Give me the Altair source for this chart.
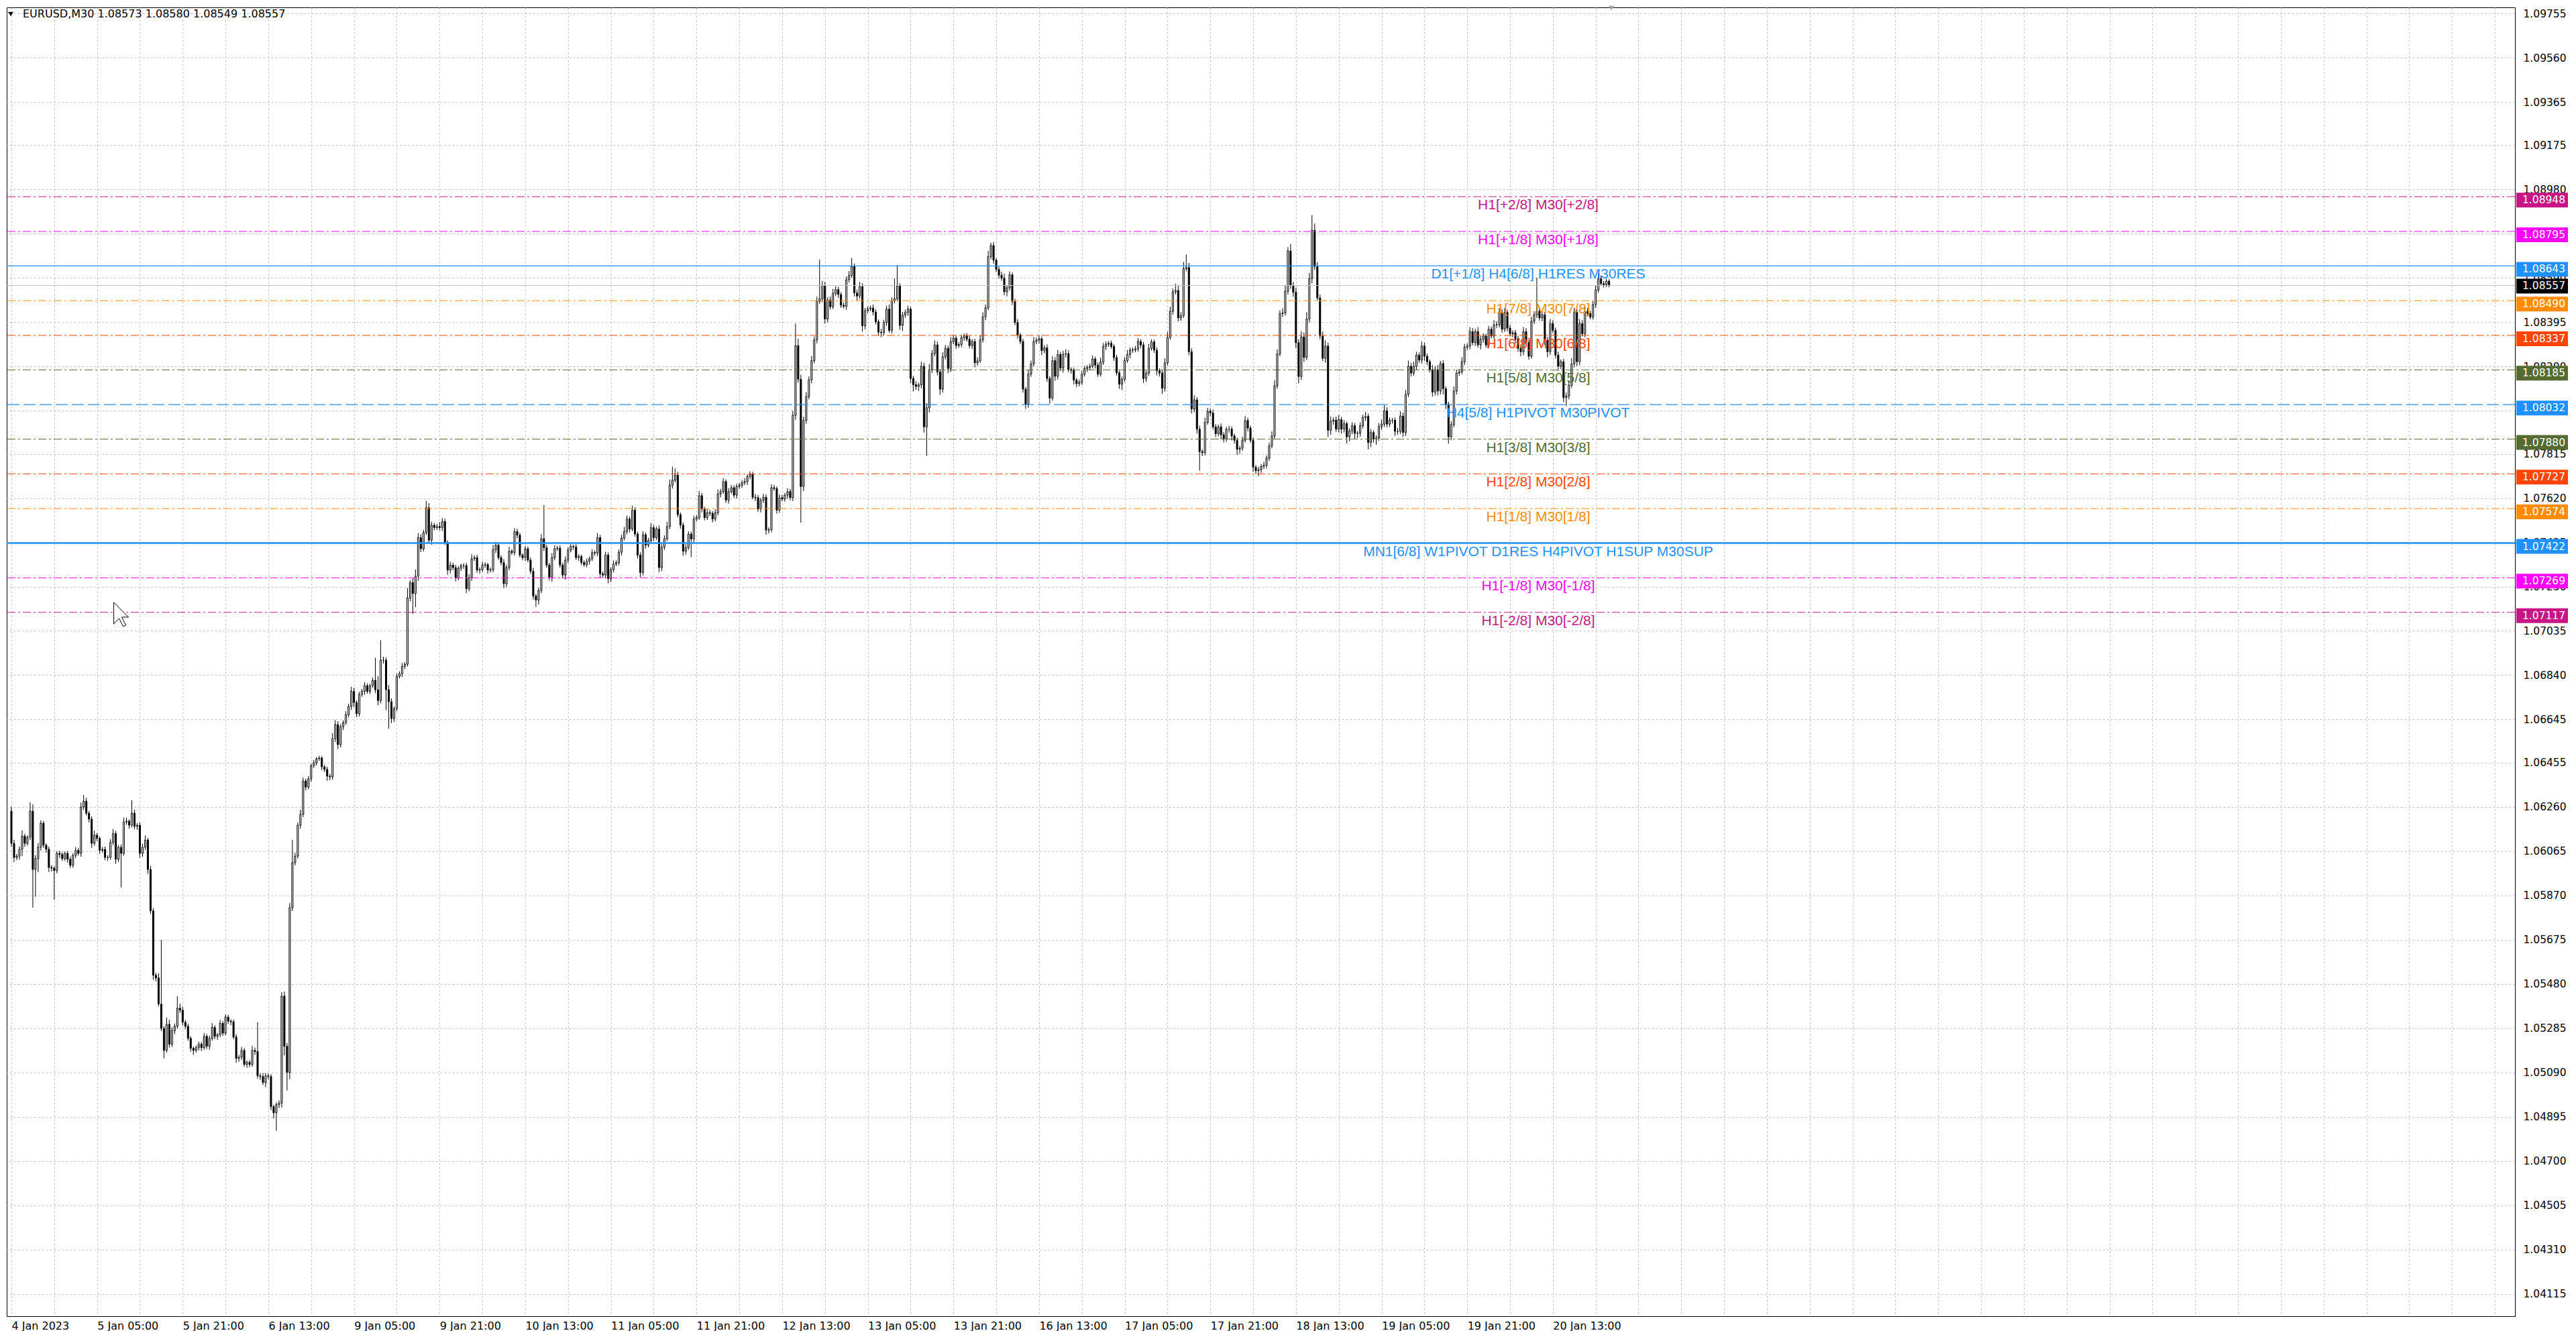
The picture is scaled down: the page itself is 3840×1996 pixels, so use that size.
import json
import altair as alt
import pandas as pd

# ---------------- data (prices in 1e-5 units above 1.00000) ----------------
first_open_pts = 6241
close_pts = [
6099,6037,6043,6073,6131,6099,6126,6241,5984,6032,
6082,6188,6091,6073,5993,5990,5979,6055,6050,6032,
6055,6029,6002,6046,6068,6055,6259,6285,6232,6206,
6099,6135,6121,6068,6073,6037,6037,6103,6142,6029,
6082,6055,6193,6197,6179,6232,6174,6179,6055,6082,
6114,5984,5802,5518,5506,5391,5284,5187,5302,5214,
5274,5293,5373,5364,5311,5293,5240,5196,5187,5199,
5214,5199,5249,5205,5240,5288,5249,5256,5306,5263,
5334,5316,5313,5246,5152,5157,5187,5125,5134,5125,
5187,5182,5075,5072,5045,5075,5072,4939,4912,4948,
4955,5426,5205,5090,5816,6014,6043,6179,6227,6374,
6347,6383,6441,6454,6472,6475,6436,6425,6395,6392,
6560,6622,6534,6613,6631,6666,6702,6769,6719,6670,
6755,6769,6794,6769,6794,6817,6776,6728,6906,6906,
6776,6723,6649,6693,6835,6847,6879,6888,7180,7248,
7200,7276,7446,7397,7468,7578,7435,7501,7490,7495,
7490,7517,7424,7303,7325,7314,7268,7311,7323,7323,
7221,7270,7353,7358,7303,7305,7325,7327,7303,7305,
7393,7413,7358,7336,7243,7314,7386,7380,7473,7457,
7369,7358,7397,7347,7298,7188,7171,7213,7441,7402,
7325,7272,7358,7397,7400,7325,7281,7347,7391,7407,
7405,7358,7363,7336,7327,7342,7353,7380,7378,7446,
7287,7281,7369,7265,7305,7330,7336,7382,7444,7473,
7528,7484,7567,7462,7369,7292,7459,7413,7433,7490,
7446,7484,7314,7404,7441,7495,7677,7699,7721,7547,
7501,7386,7402,7462,7440,7528,7534,7631,7572,7534,
7556,7553,7528,7556,7638,7649,7693,7611,7649,7666,
7633,7671,7677,7688,7693,7715,7726,7624,7622,7572,
7611,7624,7479,7481,7666,7662,7567,7622,7616,7633,
7649,7622,7985,8292,8144,7671,7963,8067,8141,8226,
8317,8488,8498,8557,8409,8493,8463,8522,8539,8517,
8470,8465,8582,8601,8641,8524,8510,8552,8379,8446,
8453,8458,8440,8397,8351,8349,8394,8453,8359,8490,
8498,8555,8381,8426,8438,8453,8147,8120,8112,8119,
8201,7934,8018,8186,8257,8295,8176,8100,8243,8280,
8191,8310,8325,8292,8297,8327,8335,8320,8292,8310,
8216,8225,8317,8419,8458,8684,8733,8668,8628,8602,
8589,8529,8547,8604,8486,8394,8338,8310,8100,8033,
8166,8211,8310,8316,8322,8270,8282,8147,8061,8226,
8157,8253,8193,8254,8256,8186,8183,8140,8124,8131,
8166,8191,8196,8201,8233,8206,8166,8219,8288,8298,
8302,8288,8239,8172,8122,8144,8226,8252,8272,8273,
8278,8310,8295,8147,8171,8280,8308,8272,8181,8171,
8104,8216,8328,8443,8529,8535,8414,8424,8631,8636,
8265,8013,8053,7924,7825,7820,7954,8003,7995,7934,
7904,7934,7899,7880,7924,7924,7894,7875,7835,7840,
7875,7962,7929,7875,7756,7741,7746,7760,7765,7796,
7850,7894,8114,8255,8433,8436,8532,8709,8557,8527,
8305,8156,8330,8240,8409,8587,8800,8640,8502,8334,
8236,8290,7919,7959,7964,7924,7966,7924,7948,7890,
7916,7939,7905,7906,7939,7975,7980,7865,7909,7880,
7885,7936,7946,8005,7946,7963,7963,7914,7914,7982,
7909,8077,8201,8171,8201,8250,8228,8290,8245,8221,
8186,8087,8186,8092,8213,8102,8033,7890,7944,8092,
8171,8176,8221,8285,8290,8354,8305,8354,8295,8320,
8334,8295,8364,8334,8384,8384,8438,8364,8438,8369,
8344,8349,8320,8280,8265,8354,8305,8245,8399,8428,
8443,8414,8428,8315,8265,8389,8359,8250,8201,8221,
8063,8070,8117,8211,8438,8221,8389,8344,8443,8433,
8418,8473,8537,8586,8565,8560,8576,8557]

upper_wick_pts = [
20,15,10,12,25,10,8,39,30,15,18,12,10,8,12,10,8,10,12,10,
8,10,12,10,15,10,20,27,15,10,12,20,10,8,10,12,10,15,20,12,
10,12,20,15,8,57,15,10,12,15,20,10,15,12,10,20,283,10,30,20,
15,12,53,20,15,10,12,10,8,10,12,10,15,10,12,20,10,8,15,10,
12,10,8,10,12,10,15,10,8,10,20,12,129,10,15,12,10,10,8,10,
12,18,20,15,20,100,15,12,20,15,10,12,10,12,8,10,8,10,12,10,
25,20,15,12,10,15,12,20,15,10,12,10,15,10,8,12,100,60,88,15,
12,20,15,10,12,10,15,10,44,10,20,30,20,15,12,30,20,15,10,12,
20,15,12,10,15,10,12,10,8,10,12,15,20,10,12,10,15,10,8,10,
20,15,12,10,15,12,20,10,15,12,10,8,12,10,12,15,10,12,20,148,
12,10,20,15,10,12,10,15,12,10,8,12,10,8,10,12,10,15,10,20,
12,10,15,12,10,15,10,12,15,20,15,10,20,12,10,12,15,10,12,20,
12,10,15,20,15,20,25,60,30,15,10,12,15,12,10,15,12,20,12,10,
15,12,10,15,20,12,15,10,15,12,10,12,10,12,15,10,12,10,15,12,
10,15,12,10,15,12,10,15,12,10,15,12,20,97,30,20,15,20,15,20,
15,20,173,20,15,12,15,20,15,12,10,12,15,20,37,12,15,20,15,12,
12,10,15,12,10,15,12,15,20,15,89,91,12,15,12,15,10,12,15,10,
20,15,20,25,15,20,15,12,20,15,12,20,15,12,10,12,10,12,15,10,
12,15,20,20,15,25,12,15,10,12,15,20,12,15,10,12,15,10,12,10,
20,15,20,12,15,10,12,15,10,20,15,20,12,15,20,15,10,12,10,12,
15,12,10,12,15,10,12,20,15,12,10,12,10,12,10,12,15,20,12,10,
12,15,10,12,15,20,12,10,12,10,15,20,25,20,15,30,20,15,30,57,
20,15,20,12,15,10,20,15,12,15,12,10,15,12,10,15,12,10,12,10,
15,20,12,10,12,10,12,10,15,12,15,20,25,20,15,20,25,17,30,15,
20,15,25,20,30,25,67,30,20,15,20,25,15,20,12,15,20,12,15,10,
12,15,12,10,15,12,20,12,15,10,12,15,20,25,15,12,10,12,15,20,
15,20,25,15,20,15,12,20,15,12,10,20,15,20,12,15,10,12,15,20,
15,12,20,15,12,20,15,12,20,15,12,10,15,12,20,15,20,15,20,12,
15,10,12,15,10,20,15,12,20,15,148,20,15,12,15,20,15,12,15,10,
12,15,20,25,20,15,20,15,20,15,12,15,20,25,15,12,10,8]

lower_wick_pts = [
15,20,12,15,30,15,10,12,168,120,60,15,12,15,20,15,128,12,15,10,
10,15,12,10,12,10,15,12,10,15,20,10,12,15,10,12,15,10,12,20,
12,150,10,12,15,10,12,15,20,15,12,20,15,20,15,10,12,35,10,15,
12,15,10,12,15,12,10,15,20,10,12,15,10,12,15,10,12,15,10,12,
10,12,15,10,20,15,12,10,15,12,10,15,12,15,10,20,12,15,25,79,
15,20,40,80,30,15,12,10,15,12,15,10,12,10,12,10,15,12,20,15,
12,15,20,12,15,10,12,15,20,15,12,10,15,10,12,10,15,20,12,15,
90,119,20,15,12,10,15,12,10,15,90,60,20,15,12,10,15,20,12,10,
12,15,10,20,15,12,15,10,12,15,20,12,15,10,12,15,10,12,15,10,
12,15,10,12,20,15,12,10,12,15,10,12,15,10,12,15,30,20,12,15,
12,15,20,12,10,12,15,20,12,10,12,10,15,12,10,12,15,10,12,15,
20,12,15,20,15,12,10,12,15,10,12,15,10,12,15,20,12,15,10,12,
15,10,20,15,12,10,12,15,10,12,15,20,15,10,80,15,12,10,15,12,
10,12,15,10,12,15,10,12,15,10,12,15,10,12,10,15,12,10,15,12,
15,12,20,15,12,10,15,12,10,12,15,12,15,20,15,159,20,15,12,15,
12,15,12,15,20,15,12,10,12,15,12,10,15,12,10,15,20,12,25,15,
12,10,15,12,15,20,12,15,10,15,12,10,20,25,12,15,20,30,15,20,
15,25,128,20,15,12,15,25,15,12,20,15,12,15,10,12,15,10,12,15,
20,12,10,12,15,10,12,15,12,15,12,15,20,12,15,12,15,12,15,20,
15,12,10,12,15,20,12,15,25,12,20,15,12,20,15,12,15,20,15,12,
12,10,15,12,10,15,12,10,12,15,12,10,15,12,20,25,12,10,15,12,
10,12,15,20,15,12,10,12,20,15,25,15,12,10,15,12,15,12,10,12,
15,20,15,20,84,15,12,10,15,12,15,12,20,15,12,15,20,15,25,20,
12,10,15,12,20,15,25,15,12,15,12,10,15,12,10,15,12,15,15,20,
25,30,15,20,12,15,20,15,12,15,12,20,30,20,15,12,15,20,15,30,
20,15,25,20,15,12,15,30,20,15,25,12,15,12,15,12,15,20,15,12,
20,15,12,15,12,15,12,15,20,15,12,20,15,20,15,25,20,30,15,12,
15,12,10,15,12,15,12,15,12,20,15,12,15,10,12,15,12,15,12,15,
12,15,20,15,20,15,12,15,10,12,15,12,15,20,25,15,12,15,20,12,
20,38,15,12,15,20,15,12,15,12,10,12,15,12,10,12,10,8]

time_labels = ["4 Jan 2023", "5 Jan 05:00", "5 Jan 21:00", "6 Jan 13:00", "9 Jan 05:00",
               "9 Jan 21:00", "10 Jan 13:00", "11 Jan 05:00", "11 Jan 21:00", "12 Jan 13:00",
               "13 Jan 05:00", "13 Jan 21:00", "16 Jan 13:00", "17 Jan 05:00", "17 Jan 21:00",
               "18 Jan 13:00", "19 Jan 05:00", "19 Jan 21:00", "20 Jan 13:00"]

price_ticks = [1.09755, 1.09560, 1.09365, 1.09175, 1.08980, 1.08785, 1.08590, 1.08395,
               1.08200, 1.08005, 1.07815, 1.07620, 1.07425, 1.07230, 1.07035, 1.06840,
               1.06645, 1.06455, 1.06260, 1.06065, 1.05870, 1.05675, 1.05480, 1.05285,
               1.05090, 1.04895, 1.04700, 1.04505, 1.04310, 1.04115]

level_prices = [1.08948, 1.08795, 1.08643, 1.08490, 1.08337, 1.08185, 1.08032,
                1.07880, 1.07727, 1.07574, 1.07422, 1.07269, 1.07117]
level_names = ["H1[+2/8] M30[+2/8]", "H1[+1/8] M30[+1/8]", "D1[+1/8] H4[6/8] H1RES M30RES",
               "H1[7/8] M30[7/8]", "H1[6/8] M30[6/8]", "H1[5/8] M30[5/8]",
               "H4[5/8] H1PIVOT M30PIVOT", "H1[3/8] M30[3/8]", "H1[2/8] M30[2/8]",
               "H1[1/8] M30[1/8]", "MN1[6/8] W1PIVOT D1RES H4PIVOT H1SUP M30SUP",
               "H1[-1/8] M30[-1/8]", "H1[-2/8] M30[-2/8]"]
bid_price = 1.08557
title_text = "EURUSD,M30  1.08573 1.08580 1.08549 1.08557"

# ---------------- styles ----------------
level_colors = ["#C71585", "#FF00FF", "#1E90FF", "#FF8C00", "#FF4500", "#556B2F", "#1E90FF",
                "#556B2F", "#FF4500", "#FF8C00", "#1E90FF", "#FF00FF", "#C71585"]
level_styles = ["dashdot", "dashdot", "solid", "dashdot", "dashdot", "dashdot", "dash",
                "dashdot", "dashdot", "dashdot", "solid", "dashdot", "dashdot"]
level_widths = [1, 1, 1.2, 1, 1, 1, 1.2, 1, 1, 1, 2.5, 1, 1]

W, H = 3739, 1951
FONT_AX = "DejaVu Sans"
CURSOR = ("M-0.6,-1 L-0.6,0.68 L-0.18,0.26 L0.135,0.89 L0.345,0.785 "
          "L0.03,0.155 L0.555,0.155 Z")

# ---------------- build tables ----------------
n = min(len(close_pts), len(upper_wick_pts), len(lower_wick_pts))
rows = []
prev = first_open_pts
for i in range(n):
    o, c = prev, close_pts[i]
    hi = max(o, c) + upper_wick_pts[i]
    lo = min(o, c) - lower_wick_pts[i]
    rows.append(dict(i=i, open=1 + o / 1e5, close=1 + c / 1e5,
                     high=1 + hi / 1e5, low=1 + lo / 1e5))
    prev = c
candles = pd.DataFrame(rows)

levels = pd.DataFrame(dict(price=level_prices, name=level_names, color=level_colors,
                           style=level_styles, width=level_widths,
                           label=[f"{p:.5f}" for p in level_prices]))
bid = pd.DataFrame(dict(price=[bid_price], label=[f"{bid_price:.5f}"]))

xs = alt.Scale(domain=[-0.5, W / 4 - 0.5], nice=False, zero=False)
ys = alt.Scale(domain=[1.04016, 1.09782], nice=False, zero=False)

label_js = json.dumps(time_labels)
x_axis = alt.Axis(values=list(range(0, 935, 16)),
                  labelExpr=f"(datum.value % 32 == 0 && datum.value <= {32 * (len(time_labels) - 1)}) ? {label_js}[datum.value / 32] : ''",
                  grid=True, gridDash=[3, 3], gridColor="#C4C4C4", ticks=False,
                  domainColor="black", labelFont=FONT_AX, labelFontSize=16, labelColor="black",
                  labelAlign="left", labelPadding=6, labelOverlap=False, labelFlush=False,
                  labelBound=False, title=None)
y_axis = alt.Axis(orient="right", values=price_ticks, format=".5f", grid=True, gridDash=[3, 3],
                  gridColor="#C4C4C4", ticks=False, labelPadding=12, labelFont=FONT_AX,
                  labelFontSize=15.5, labelColor="black", domainColor="black",
                  labelOverlap=False, labelFlush=False, labelBound=False, title=None)

base = alt.Chart(candles)
wicks = base.mark_rule(color="black", strokeWidth=1).encode(
    x=alt.X("i:Q", scale=xs, axis=x_axis),
    y=alt.Y("low:Q", scale=ys, axis=y_axis),
    y2="high:Q")
bodies = base.mark_bar(size=2, stroke="black", strokeWidth=1).encode(
    x=alt.X("i:Q", scale=xs),
    y=alt.Y("open:Q", scale=ys),
    y2="close:Q",
    color=alt.condition("datum.close >= datum.open", alt.value("white"), alt.value("black")))

bid_line = alt.Chart(bid).mark_rule(color="#C0C0C0", strokeWidth=1).encode(
    y=alt.Y("price:Q", scale=ys))

style_dom = ["solid", "dash", "dashdot"]
level_lines = alt.Chart(levels).mark_rule().encode(
    y=alt.Y("price:Q", scale=ys),
    color=alt.Color("color:N", scale=None),
    strokeDash=alt.StrokeDash("style:N", scale=alt.Scale(domain=style_dom,
                              range=[[1, 0], [18, 6], [12, 4, 3, 4]]), legend=None),
    strokeWidth=alt.StrokeWidth("width:Q", scale=None))

level_text = alt.Chart(levels).mark_text(align="center", baseline="alphabetic", dy=19,
                                         font="Liberation Sans", fontSize=21).encode(
    x=alt.value(2283), y=alt.Y("price:Q", scale=ys),
    text="name:N", color=alt.Color("color:N", scale=None))

boxes = alt.Chart(levels).mark_rect(yOffset=-6, y2Offset=16).encode(
    x=alt.value(W + 2), x2=alt.value(W + 79),
    y=alt.Y("price:Q", scale=ys), y2="price:Q",
    color=alt.Color("color:N", scale=None))
box_text = alt.Chart(levels).mark_text(align="left", baseline="middle", yOffset=5,
                                       font=FONT_AX, fontSize=15.5, color="white").encode(
    x=alt.value(W + 11), y=alt.Y("price:Q", scale=ys), text="label:N")

bid_box = alt.Chart(bid).mark_rect(yOffset=-10, y2Offset=12, color="black").encode(
    x=alt.value(W + 2), x2=alt.value(W + 79),
    y=alt.Y("price:Q", scale=ys), y2="price:Q")
bid_text = alt.Chart(bid).mark_text(align="left", baseline="middle", yOffset=1,
                                    font=FONT_AX, fontSize=15.5, color="white").encode(
    x=alt.value(W + 11), y=alt.Y("price:Q", scale=ys), text="label:N")

title_df = pd.DataFrame(dict(t=[title_text]))
title_tri = alt.Chart(title_df).mark_point(shape="triangle-down", filled=True, color="black",
                                           size=60, opacity=1).encode(
    x=alt.value(6), y=alt.value(10))
title_mark = alt.Chart(title_df).mark_text(align="left", baseline="middle", font=FONT_AX,
                                           fontSize=16, color="black").encode(
    x=alt.value(24), y=alt.value(10), text="t:N")
shift_marker = alt.Chart(title_df).mark_point(shape="triangle-down", filled=True,
                                              color="#A8A8A8", size=70, opacity=1).encode(
    x=alt.value(4 * (n - 0.5) + 2), y=alt.value(1))
cursor = alt.Chart(title_df).mark_point(shape=CURSOR, filled=True, fill="white",
                                        stroke="black", strokeWidth=1, size=1444,
                                        opacity=1).encode(
    x=alt.value(171), y=alt.value(906))

chart = alt.layer(
    wicks, bodies, bid_line, level_lines, level_text,
    boxes, box_text, bid_box, bid_text, title_tri, title_mark, shift_marker, cursor
).properties(
    width=W, height=H, padding={"left": 0, "top": 0, "right": 0, "bottom": 0},
    background="white"
).configure_view(stroke="black", strokeWidth=1)

chart.save("out.html", embed_options={"renderer": "svg", "actions": False})
